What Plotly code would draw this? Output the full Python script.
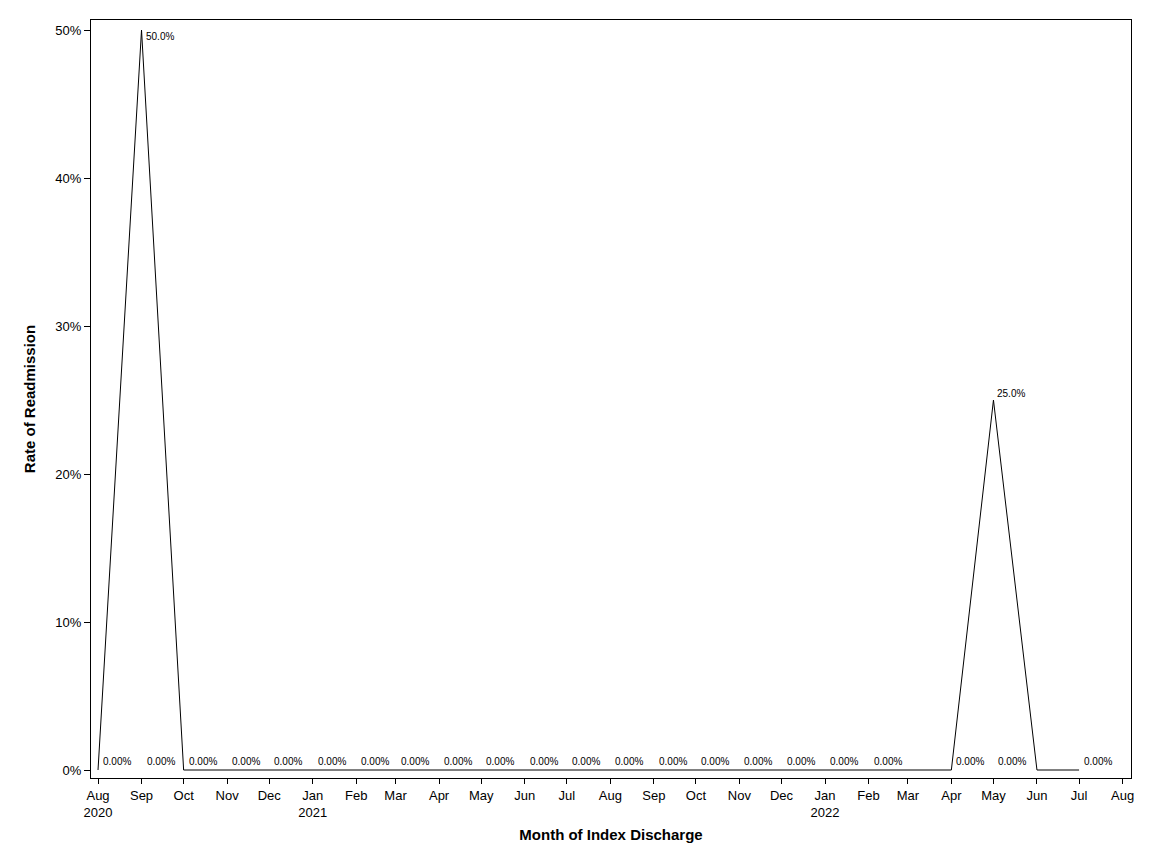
import pandas as pd
import plotly.graph_objects as go

# monthly readmission rate (fraction)
months = pd.date_range("2020-08-01", "2022-07-01", freq="MS")
rates = [0, 0.50, 0, 0, 0, 0, 0, 0, 0, 0, 0, 0,
         0, 0, 0, 0, 0, 0, 0, 0, 0, 0.25, 0, 0]

# point labels as printed on the chart
peak_months = ["2020-09-01", "2022-05-01"]
peak_values = [0.50, 0.25]
peak_text = ["50.0%", "25.0%"]
zero_months = [d.strftime("%Y-%m-%d") for d in pd.date_range("2020-08-01", "2022-02-01", freq="MS")]
zero_months += ["2022-04-01", "2022-05-01", "2022-07-01"]
zero_text = ["0.00%"] * len(zero_months)

tick_dates = pd.date_range("2020-08-01", "2022-08-01", freq="MS")
tick_text = []
for d in tick_dates:
    if d == tick_dates[0] or d.month == 1:
        tick_text.append(f"{d.strftime('%b')}<br>{d.year}")
    else:
        tick_text.append(d.strftime("%b"))

fig = go.Figure()
fig.add_trace(go.Scatter(x=months, y=rates, mode="lines",
                         line=dict(color="black", width=1), showlegend=False))

for m, v, t in zip(peak_months, peak_values, peak_text):
    # label at the top of the axis goes below the point, others above
    at_top = v >= 0.5
    fig.add_annotation(x=m, y=v, text=t, showarrow=False, xanchor="left",
                       yanchor="top" if at_top else "bottom",
                       xshift=2, yshift=1 if at_top else -1, font=dict(size=10))
for m, t in zip(zero_months, zero_text):
    fig.add_annotation(x=m, y=0, text=t, showarrow=False, xanchor="left", yanchor="bottom",
                       xshift=3, yshift=1, font=dict(size=10))

fig.update_layout(
    width=1152, height=864,
    margin=dict(l=83, r=29, t=12, b=94),
    paper_bgcolor="white", plot_bgcolor="white",
    font=dict(family="Liberation Sans, Arial", size=13, color="black"),
)
fig.update_xaxes(
    range=["2020-07-27", "2022-08-07"],
    tickvals=tick_dates, ticktext=tick_text, tickangle=0,
    ticks="outside", ticklen=5, tickcolor="black",
    showline=True, linecolor="black", mirror=True, showgrid=False, zeroline=False,
    automargin=False,
    title=dict(text="<b>Month of Index Discharge</b>", font=dict(size=15), standoff=10),
)
fig.update_yaxes(
    range=[-0.0054, 0.5068],
    tickvals=[0, 0.1, 0.2, 0.3, 0.4, 0.5], tickformat=".0%",
    ticks="outside", ticklen=6, tickcolor="black",
    showline=True, linecolor="black", mirror=True, showgrid=False, zeroline=False,
    automargin=False,
    title=dict(text="<b>Rate of Readmission</b>", font=dict(size=15), standoff=16),
)

fig.write_html("out.html")
